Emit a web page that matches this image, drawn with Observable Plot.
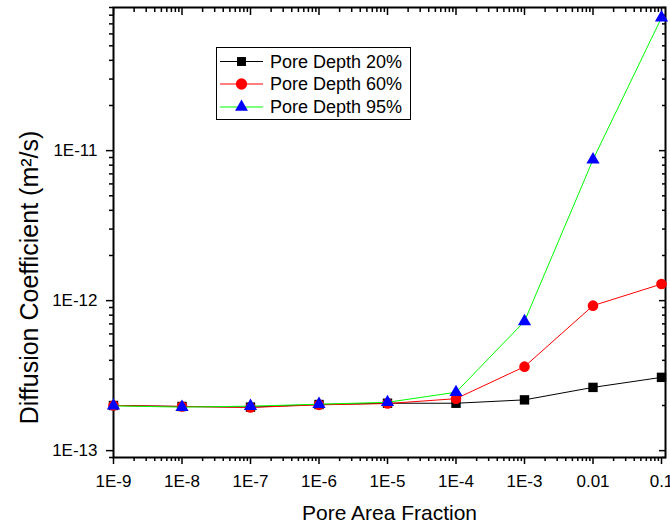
<!DOCTYPE html>
<html><head><meta charset="utf-8">
<script src="https://cdn.jsdelivr.net/npm/d3@7"></script>
<script src="https://cdn.jsdelivr.net/npm/@observablehq/plot@0.6"></script>
<style>
html,body{margin:0;padding:0;background:#fff;}
#wrap{position:relative;width:670px;height:524px;font-family:"Liberation Sans",Arial,sans-serif;}
#legend{position:absolute;left:0;top:0;pointer-events:none;}
</style></head><body><div id="wrap"></div>
<script>
// ---- data ----
const poreArea = [1e-9, 1e-8, 1e-7, 1e-6, 1e-5, 1e-4, 1e-3, 0.01, 0.1];
const depth20 = [2.00e-13, 1.97e-13, 1.95e-13, 2.03e-13, 2.07e-13, 2.07e-13, 2.18e-13, 2.64e-13, 3.08e-13];
const depth60 = [2.00e-13, 1.97e-13, 1.94e-13, 2.02e-13, 2.06e-13, 2.22e-13, 3.63e-13, 9.26e-13, 1.29e-12];
const depth95 = [1.99e-13, 1.95e-13, 1.98e-13, 2.04e-13, 2.10e-13, 2.45e-13, 7.27e-13, 8.7e-12, 7.7e-11];
const seriesNames = ["Pore Depth 20%", "Pore Depth 60%", "Pore Depth 95%"];
const xTickValues = [1e-9, 1e-8, 1e-7, 1e-6, 1e-5, 1e-4, 1e-3, 0.01, 0.1];
const xTickLabels = ["1E-9", "1E-8", "1E-7", "1E-6", "1E-5", "1E-4", "1E-3", "0.01", "0.1"];
const yTickValues = [1e-13, 1e-12, 1e-11];
const yTickLabels = ["1E-13", "1E-12", "1E-11"];
const xTitle = "Pore Area Fraction";
const yTitle = "Diffusion Coefficient (m\u00B2/s)";

// ---- build tables ----
const d20 = poreArea.map((x, i) => ({x, y: depth20[i]}));
const d60 = poreArea.map((x, i) => ({x, y: depth60[i]}));
const d95 = poreArea.map((x, i) => ({x, y: depth95[i]}));

const xDomain = [1e-9, 0.1144];
const yDomain = [9e-14, 9e-11];
function minorTicks([lo, hi]) {
  const out = [];
  for (let e = Math.floor(Math.log10(lo)); e <= Math.ceil(Math.log10(hi)); e++) {
    for (let m = 2; m <= 9; m++) {
      const v = m * Math.pow(10, e);
      if (v >= lo && v <= hi) out.push(v);
    }
  }
  return out;
}
const xMinor = minorTicks(xDomain);
const yMinor = minorTicks(yDomain);
const blank = () => "";
const xFmt = d => xTickLabels[xTickValues.indexOf(d)];
const yFmt = d => yTickLabels[yTickValues.indexOf(d)];
const tw = 1.5;

const chart = Plot.plot({
  width: 670,
  height: 524,
  marginLeft: 113,
  marginRight: 5,
  marginTop: 7,
  marginBottom: 67,
  style: {fontFamily: '"Liberation Sans", Arial, sans-serif', fontSize: "17px", color: "#000", background: "#fff"},
  x: {type: "log", domain: xDomain},
  y: {type: "log", domain: yDomain},
  marks: [
    // axes ticks
    Plot.axisX(xTickValues, {anchor: "bottom", tickSize: 7, tickPadding: 10, strokeWidth: tw, tickFormat: xFmt, label: null, fontSize: 17}),
    Plot.axisX(xMinor, {anchor: "bottom", tickSize: 4, strokeWidth: tw, tickFormat: blank, label: null}),
    Plot.axisX(xTickValues, {anchor: "top", tickSize: -7, strokeWidth: tw, tickFormat: blank, label: null}),
    Plot.axisX(xMinor, {anchor: "top", tickSize: -4, strokeWidth: tw, tickFormat: blank, label: null}),
    Plot.axisY(yTickValues, {anchor: "left", tickSize: 7, tickPadding: 9, strokeWidth: tw, tickFormat: yFmt, label: null, fontSize: 17}),
    Plot.axisY(yMinor, {anchor: "left", tickSize: 4, strokeWidth: tw, tickFormat: blank, label: null}),
    Plot.axisY(yTickValues, {anchor: "right", tickSize: -7, strokeWidth: tw, tickFormat: blank, label: null}),
    Plot.axisY(yMinor, {anchor: "right", tickSize: -4, strokeWidth: tw, tickFormat: blank, label: null}),
    Plot.frame({stroke: "#000", strokeWidth: 2}),
    // series
    Plot.line(d20, {x: "x", y: "y", stroke: "#000", strokeWidth: 1}),
    Plot.dot(d20, {x: "x", y: "y", symbol: "square", r: 5.3, fill: "#000"}),
    Plot.line(d60, {x: "x", y: "y", stroke: "#ff0000", strokeWidth: 1}),
    Plot.dot(d60, {x: "x", y: "y", symbol: "circle", r: 5.3, fill: "#ff0000"}),
    Plot.line(d95, {x: "x", y: "y", stroke: "#00ff00", strokeWidth: 1}),
    Plot.dot(d95, {x: "x", y: "y", symbol: "triangle", r: 4.9, fill: "#0000ff"}),
    // axis titles
    Plot.text([xTitle], {text: d => d, frameAnchor: "bottom", textAnchor: "middle", dy: 55.5, lineAnchor: "middle", fontSize: 21, fill: "#000"}),
    Plot.text([yTitle], {text: d => d, frameAnchor: "left", textAnchor: "middle", dx: -83.5, dy: 45, rotate: -90, lineAnchor: "middle", fontSize: 25, fill: "#000"})
  ]
});
const wrap = document.getElementById("wrap");
wrap.appendChild(chart);

// ---- legend overlay ----
const legendColors = [
  {line: "#000", fill: "#000", sym: d3.symbolSquare, size: 80},
  {line: "#ff0000", fill: "#ff0000", sym: d3.symbolCircle, size: 100},
  {line: "#00ff00", fill: "#0000ff", sym: d3.symbolTriangle, size: 72}
];
const rowY = [61.5, 84, 107];
const lg = d3.create("svg").attr("id", "legend").attr("width", 670).attr("height", 524);
lg.append("rect").attr("x", 216.5).attr("y", 47.5).attr("width", 194).attr("height", 72)
  .attr("fill", "#fff").attr("stroke", "#000").attr("stroke-width", 1);
seriesNames.forEach((name, i) => {
  const g = lg.append("g").attr("transform", `translate(0,${rowY[i]})`);
  g.append("line").attr("x1", 220).attr("x2", 263).attr("y1", 0).attr("y2", 0)
    .attr("stroke", legendColors[i].line).attr("stroke-width", 1);
  g.append("path").attr("d", d3.symbol(legendColors[i].sym, legendColors[i].size)())
    .attr("transform", "translate(241.5,0)").attr("fill", legendColors[i].fill);
  g.append("text").attr("x", 270).attr("y", 6.3).text(name)
    .attr("font-size", 18).attr("fill", "#000")
    .attr("font-family", '"Liberation Sans", Arial, sans-serif');
});
wrap.appendChild(lg.node());
</script></body></html>
